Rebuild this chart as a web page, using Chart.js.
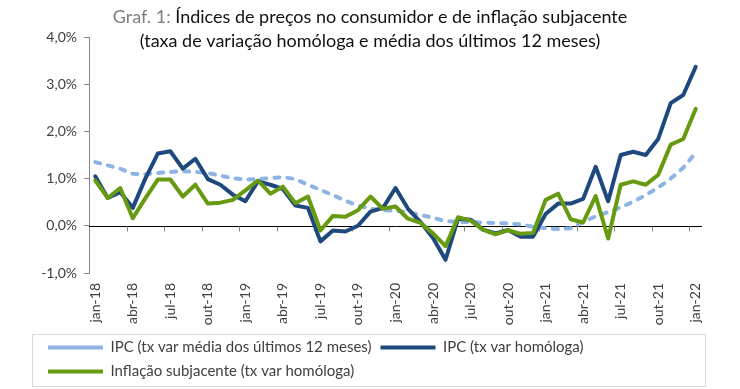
<!DOCTYPE html>
<html>
<head>
<meta charset="utf-8">
<script src="https://cdn.jsdelivr.net/npm/chart.js@4.4.1/dist/chart.umd.min.js"></script>
<style>
  html, body { margin: 0; padding: 0; background: #fff; }
  #wrap { width: 740px; height: 389px; }
</style>
</head>
<body>
<div id="wrap"><canvas id="chGraf1"></canvas></div>
<script>
/* Graf. 1 - IPC e inflacao subjacente */

// months jan-18 .. jan-22
var meses = [
  "jan-18", "fev-18", "mar-18", "abr-18", "mai-18", "jun-18", "jul-18", "ago-18", "set-18", "out-18", "nov-18", "dez-18",
  "jan-19", "fev-19", "mar-19", "abr-19", "mai-19", "jun-19", "jul-19", "ago-19", "set-19", "out-19", "nov-19", "dez-19",
  "jan-20", "fev-20", "mar-20", "abr-20", "mai-20", "jun-20", "jul-20", "ago-20", "set-20", "out-20", "nov-20", "dez-20",
  "jan-21", "fev-21", "mar-21", "abr-21", "mai-21", "jun-21", "jul-21", "ago-21", "set-21", "out-21", "nov-21", "dez-21",
  "jan-22"
];

// IPC - tx var media dos ultimos 12 meses (%)
var ipcMedia12m = [
  1.35, 1.28, 1.21, 1.10, 1.09, 1.12, 1.14, 1.16, 1.14, 1.12, 1.06, 1.01,
  0.98, 0.99, 1.01, 1.03, 0.99, 0.87, 0.76, 0.65, 0.53, 0.43, 0.36, 0.33,
  0.32, 0.29, 0.23, 0.17, 0.10, 0.08, 0.08, 0.07, 0.06, 0.05, 0.03, -0.02,
  -0.05, -0.07, -0.05, 0.08, 0.20, 0.29, 0.39, 0.51, 0.65, 0.81, 1.00, 1.23,
  1.55
];

// IPC - tx var homologa (%)
var ipcHomologa = [
  1.05, 0.59, 0.71, 0.38, 1.00, 1.53, 1.58, 1.21, 1.42, 0.99, 0.87, 0.66,
  0.52, 0.94, 0.87, 0.78, 0.43, 0.38, -0.33, -0.10, -0.12, 0.00, 0.30, 0.38,
  0.80, 0.36, 0.08, -0.26, -0.72, 0.15, 0.13, -0.08, -0.16, -0.09, -0.23, -0.23,
  0.25, 0.47, 0.47, 0.57, 1.25, 0.52, 1.50, 1.57, 1.50, 1.84, 2.60, 2.77,
  3.37
];

// Inflacao subjacente - tx var homologa (%)
var inflacaoSubjacente = [
  0.96, 0.59, 0.80, 0.16, 0.58, 0.98, 0.98, 0.62, 0.87, 0.47, 0.49, 0.55,
  0.75, 0.96, 0.68, 0.83, 0.48, 0.62, -0.10, 0.21, 0.19, 0.33, 0.62, 0.36,
  0.41, 0.15, 0.06, -0.16, -0.43, 0.18, 0.11, -0.08, -0.18, -0.09, -0.17, -0.15,
  0.55, 0.68, 0.14, 0.07, 0.63, -0.27, 0.87, 0.94, 0.87, 1.08, 1.72, 1.84,
  2.48
];

var yTicks = [-1, 0, 1, 2, 3, 4];

// colors
var colors = ["#8db4e2", "#1f497d", "#669a10"];
var txtColor = "#404040";
var axisColor = "#868686";

Chart.defaults.font.family = "Lato";

// title in two colours ("Graf. 1:" gray)
var titlePlugin = {
  id: "titulo",
  afterDraw: function (chart) {
    var ctx = chart.ctx;
    var cx = 370;
    ctx.save();
    ctx.font = "18px Lato";
    ctx.textBaseline = "middle";
    ctx.textAlign = "left";
    var p1 = "Graf. 1: ";
    var p2 = "Índices de preços no consumidor e de inflação subjacente";
    var w1 = ctx.measureText(p1).width;
    var w2 = ctx.measureText(p2).width;
    var x0 = cx - (w1 + w2) / 2;
    ctx.fillStyle = "#7f7f7f";
    ctx.fillText(p1, x0, 17);
    ctx.fillStyle = "#111111";
    ctx.fillText(p2, x0 + w1, 17);
    ctx.textAlign = "center";
    ctx.fillText("(taxa de variação homóloga e média dos últimos 12 meses)", cx, 41);
    ctx.restore();
  }
};

// zero line with tick marks between every 3 categories + legend frame
var axisPlugin = {
  id: "eixoZero",
  beforeDatasetsDraw: function (chart) {
    var ctx = chart.ctx;
    var xs = chart.scales.x;
    var y0 = Math.round(chart.scales.y.getPixelForValue(0)) + 0.5;
    ctx.save();
    ctx.strokeStyle = "#000000";
    ctx.lineWidth = 1;
    ctx.beginPath();
    ctx.moveTo(chart.chartArea.left, y0);
    ctx.lineTo(chart.chartArea.right, y0);
    ctx.stroke();
    ctx.strokeStyle = axisColor;
    ctx.beginPath();
    for (var k = 2.5; k < meses.length; k += 3) {
      var x = Math.round(xs.getPixelForValue(k)) + 0.5;
      ctx.moveTo(x, y0);
      ctx.lineTo(x, y0 + 5);
    }
    ctx.stroke();
    ctx.restore();
  },
  afterDraw: function (chart) {
    var lg = chart.legend;
    var ctx = chart.ctx;
    ctx.save();
    ctx.strokeStyle = "#d9d9d9";
    ctx.lineWidth = 1;
    ctx.strokeRect(lg.left - 7 + 0.5, lg.top + 3.5, lg.width + 10, lg.height - 6);
    ctx.restore();
  }
};

new Chart(document.getElementById("chGraf1"), {
  type: "line",
  data: {
    labels: meses,
    datasets: [
      {
        label: "IPC (tx var média dos últimos 12 meses)",
        data: ipcMedia12m,
        borderColor: colors[0],
        backgroundColor: colors[0],
        borderWidth: 4,
        borderDash: [5, 8],
        borderCapStyle: "round",
        pointRadius: 0,
        tension: 0,
        order: 3
      },
      {
        label: "IPC (tx var homóloga)",
        data: ipcHomologa,
        borderColor: colors[1],
        backgroundColor: colors[1],
        borderWidth: 4,
        borderCapStyle: "round",
        borderJoinStyle: "round",
        pointRadius: 0,
        tension: 0,
        order: 2
      },
      {
        label: "Inflação subjacente (tx var homóloga)",
        data: inflacaoSubjacente,
        borderColor: colors[2],
        backgroundColor: colors[2],
        borderWidth: 4,
        borderCapStyle: "round",
        borderJoinStyle: "round",
        pointRadius: 0,
        tension: 0,
        order: 1
      }
    ]
  },
  options: {
    responsive: true,
    maintainAspectRatio: false,
    animation: false,
    devicePixelRatio: 1,
    layout: { padding: { top: 37, left: 39, right: 38, bottom: 0 } },
    plugins: {
      title: { display: false },
      tooltip: { enabled: false },
      legend: {
        position: "bottom",
        align: "start",
        labels: {
          usePointStyle: true,
          pointStyle: "line",
          pointStyleWidth: 55,
          padding: 9,
          color: txtColor,
          font: { size: 15 },
          sort: function (a, b) { return a.datasetIndex - b.datasetIndex; }
        }
      }
    },
    scales: {
      x: {
        offset: true,
        grid: { display: false, drawTicks: false },
        border: { display: false },
        ticks: {
          autoSkip: false,
          minRotation: 90,
          maxRotation: 90,
          padding: 10,
          color: txtColor,
          font: { size: 14 },
          callback: function (v, i) { return i % 3 === 0 ? this.getLabelForValue(v) : ""; }
        },
        afterFit: function (s) { s.height = 58; }
      },
      y: {
        min: -1,
        max: 4,
        afterBuildTicks: function (s) { s.ticks = yTicks.map(function (v) { return { value: v }; }); },
        grid: { drawOnChartArea: false, drawTicks: true, tickLength: 5, color: axisColor },
        border: { display: true, color: axisColor },
        ticks: {
          padding: 7,
          color: txtColor,
          font: { size: 14 },
          callback: function (v) { return v.toFixed(1).replace(".", ",") + "%"; }
        },
        afterFit: function (s) { s.width = 50; }
      }
    }
  },
  plugins: [titlePlugin, axisPlugin]
});
</script>
</body>
</html>
